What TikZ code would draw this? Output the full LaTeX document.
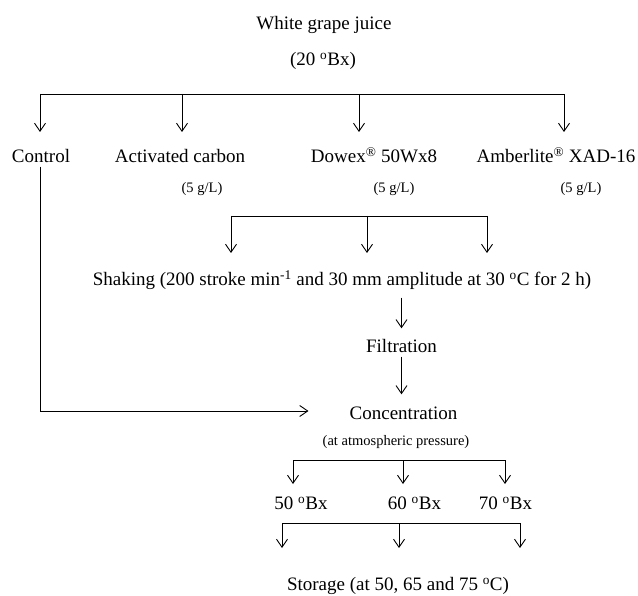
\documentclass[tikz,border=0pt]{standalone}
\usepackage{fontspec}
\setmainfont{Liberation Serif}
\usetikzlibrary{arrows.meta}
\begin{document}
\begin{tikzpicture}[x=1pt,y=-1pt,
  txt/.style={inner sep=0pt,font=\fontsize{19}{22}\selectfont,text height=13pt,text depth=4pt},
  small/.style={inner sep=0pt,font=\fontsize{14.5}{17}\selectfont,text height=10pt,text depth=3pt},
  line/.style={line width=0.9pt},
  arr/.style={line width=0.9pt,-{Straight Barb[length=8pt,width=11pt]}}]
\useasboundingbox (0,0) rectangle (638,596);
% texts
\node[txt] (juice) at (324,25) {White grape juice};
\node[txt] (brix) at (323,61) {(20 \textsuperscript{o}Bx)};
\node[txt] (control) at (41,158) {Control};
\node[txt] (carbon) at (180,158) {Activated carbon};
\node[txt] (dowex) at (374,158) {Dowex\textsuperscript{®} 50Wx8};
\node[txt] (amber) at (556,158) {Amberlite\textsuperscript{®} XAD-16};
\node[small] (dose1) at (202,189) {(5 g/L)};
\node[small] (dose2) at (394,189) {(5 g/L)};
\node[small] (dose3) at (581,189) {(5 g/L)};
\node[txt] (shaking) at (342,281) {Shaking (200 stroke min\textsuperscript{-1} and 30 mm amplitude at 30 \textsuperscript{o}C for 2 h)};
\node[txt] (filtration) at (401.5,348) {Filtration};
\node[txt] (concentration) at (403.5,415) {Concentration};
\node[small] (atm) at (396,442) {(at atmospheric pressure)};
\node[txt] (b50) at (301,505) {50 \textsuperscript{o}Bx};
\node[txt] (b60) at (414.5,505) {60 \textsuperscript{o}Bx};
\node[txt] (b70) at (505.5,505) {70 \textsuperscript{o}Bx};
\node[txt] (storage) at (398,586) {Storage (at 50, 65 and 75 \textsuperscript{o}C)};
% first distribution bar
\coordinate (p1a) at (40,94);
\coordinate (p1b) at (182,94);
\coordinate (p1c) at (359,94);
\coordinate (p1d) at (564,94);
\draw[line] (p1a) -- (p1d);
\foreach \p in {p1a,p1b,p1c,p1d} \draw[arr] (\p) -- ++(0,38);
% second bar
\coordinate (p2a) at (231,216);
\coordinate (p2b) at (367,216);
\coordinate (p2c) at (487,216);
\draw[line] (p2a) -- (p2c);
\foreach \p in {p2a,p2b,p2c} \draw[arr] (\p) -- ++(0,37);
% main chain
\draw[arr,shorten <=8pt,shorten >=11pt] (shaking.south -| filtration.north) -- (filtration.north);
\draw[arr,shorten >=12pt] (filtration.south) -- (filtration.south |- concentration.north);
% control bypass
\draw[arr,shorten >=41pt] ([xshift=-1pt]control.south) |- ([yshift=4pt]concentration.west);
% third bar
\coordinate (p3a) at (293,460);
\coordinate (p3b) at (403,460);
\coordinate (p3c) at (505,460);
\draw[line] (p3a) -- (p3c);
\foreach \p in {p3a,p3b,p3c} \draw[arr] (\p) -- ++(0,24);
% fourth bar
\coordinate (p4a) at (282,523);
\coordinate (p4b) at (399,523);
\coordinate (p4c) at (520,523);
\draw[line] (p4a) -- (p4c);
\foreach \p in {p4a,p4b,p4c} \draw[arr] (\p) -- ++(0,25);
\end{tikzpicture}
\end{document}
